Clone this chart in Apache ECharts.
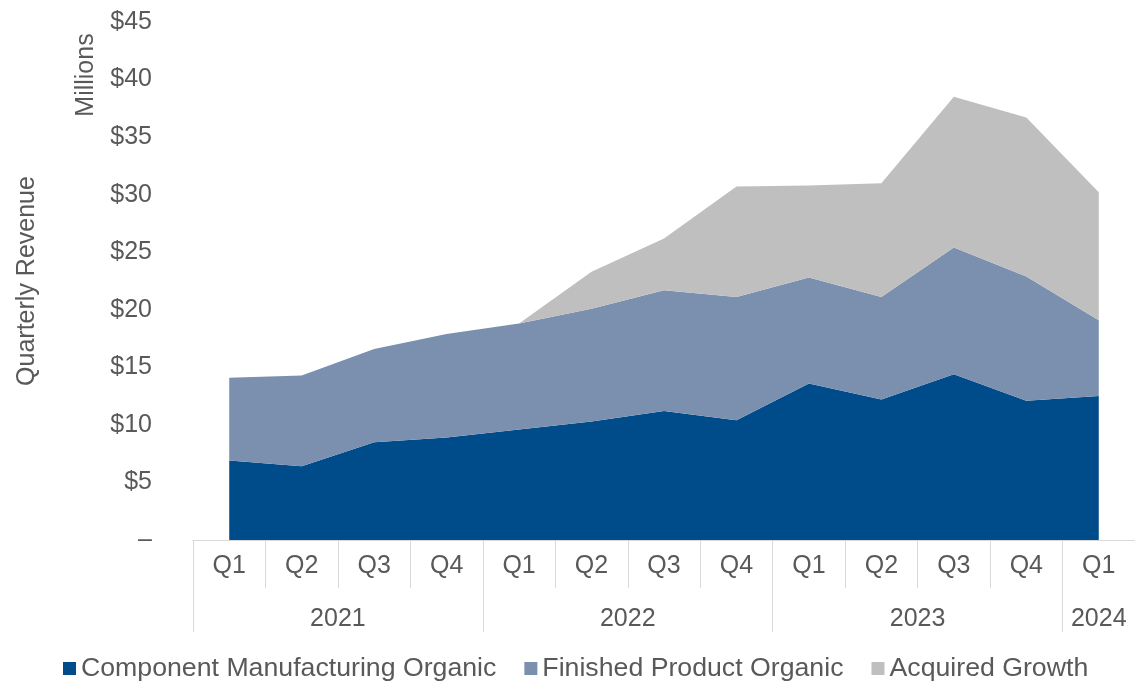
<!DOCTYPE html>
<html>
<head>
<meta charset="utf-8">
<script src="https://cdn.jsdelivr.net/npm/echarts@6/dist/echarts.min.js"></script>
<style>
html,body{margin:0;padding:0;background:#fff;}
#chart{width:1135px;height:683px;}
</style>
</head>
<body>
<div id="chart"></div>
<script>
const quarters = ['Q1','Q2','Q3','Q4','Q1','Q2','Q3','Q4','Q1','Q2','Q3','Q4','Q1'];
const years = ['2021','2022','2023','2024'];
const yearSpans = [4,4,4,1];
const componentMfg = [6.9, 6.4, 8.5, 8.9, 9.6, 10.3, 11.2, 10.4, 13.6, 12.2, 14.4, 12.1, 12.5];
const finishedProduct = [7.2, 7.9, 8.1, 9.0, 9.2, 9.8, 10.5, 10.7, 9.2, 8.9, 11.0, 10.8, 6.6];
const acquiredGrowth = [0, 0, 0, 0, 0, 3.2, 4.5, 9.6, 8.0, 9.9, 13.1, 13.8, 11.1];
const seriesNames = ['Component Manufacturing Organic','Finished Product Organic','Acquired Growth'];
const yTicks = [0,5,10,15,20,25,30,35,40,45];

const FONT = '"Liberation Sans", Arial, sans-serif';
const TXT = '#595959';
const GRIDC = '#d9d9d9';

const yearBounds = [0];
const yearMids = [];
yearSpans.forEach(function(s){ const st = yearBounds[yearBounds.length-1]; yearMids.push(st + s/2); yearBounds.push(st + s); });

const chart = echarts.init(document.getElementById('chart'), null, {renderer:'canvas'});
const colors = ['#004C8A', '#7B8FAE', '#BFBFBF'];
const dataSets = [componentMfg, finishedProduct, acquiredGrowth];

chart.setOption({
  animation:false,
  backgroundColor:'#ffffff',
  textStyle:{fontFamily:FONT},
  grid:{left:193, right:-2, top:22, bottom:143, containLabel:false},
  legend:{
    data:seriesNames, left:58, bottom:-4, icon:'rect', itemWidth:13, itemHeight:13, itemGap:28,
    textStyle:{fontSize:26.7, color:TXT, fontFamily:FONT}
  },
  xAxis:[{
    type:'category', data:quarters, boundaryGap:true,
    axisLine:{show:true, lineStyle:{color:GRIDC, width:1}},
    axisTick:{show:true, length:48, lineStyle:{color:GRIDC, width:1}},
    axisLabel:{fontSize:25, color:TXT, margin:14, fontFamily:FONT, interval:0},
    splitLine:{show:false}
  },{
    type:'value', min:0, max:quarters.length, position:'bottom', offset:48,
    axisLine:{show:false},
    axisTick:{show:true, length:44, customValues:yearBounds, lineStyle:{color:GRIDC, width:1}},
    axisLabel:{show:true, customValues:yearMids, fontSize:25, color:TXT, margin:19, fontFamily:FONT,
      formatter:function(v){ const i = yearMids.indexOf(v); return i >= 0 ? years[i] : ''; }},
    splitLine:{show:false}
  }],
  yAxis:{
    type:'value', min:0, max:45, interval:5,
    name:'Quarterly Revenue', nameLocation:'middle', nameGap:153, nameRotate:90,
    nameTextStyle:{fontSize:25, color:TXT, fontFamily:FONT},
    axisLine:{show:false}, axisTick:{show:false}, splitLine:{show:false},
    axisLabel:{fontSize:25, color:TXT, margin:41, fontFamily:FONT,
      formatter:function(v){ return yTicks.indexOf(v) >= 0 ? (v === 0 ? '–' : '$' + v) : ''; }}
  },
  graphic:[{
    type:'text', x:86, y:75, rotation:Math.PI/2,
    style:{text:'Millions', fontSize:25, fill:TXT, fontFamily:FONT, align:'center', verticalAlign:'middle'}
  }],
  series: seriesNames.map(function(n, i){
    return {
      name:n, type:'line', stack:'total', xAxisIndex:0, data:dataSets[i],
      symbol:'none', showSymbol:false,
      lineStyle:{width:0, color:colors[i]},
      itemStyle:{color:colors[i]},
      areaStyle:{color:colors[i], opacity:1}
    };
  })
});
</script>
</body>
</html>
